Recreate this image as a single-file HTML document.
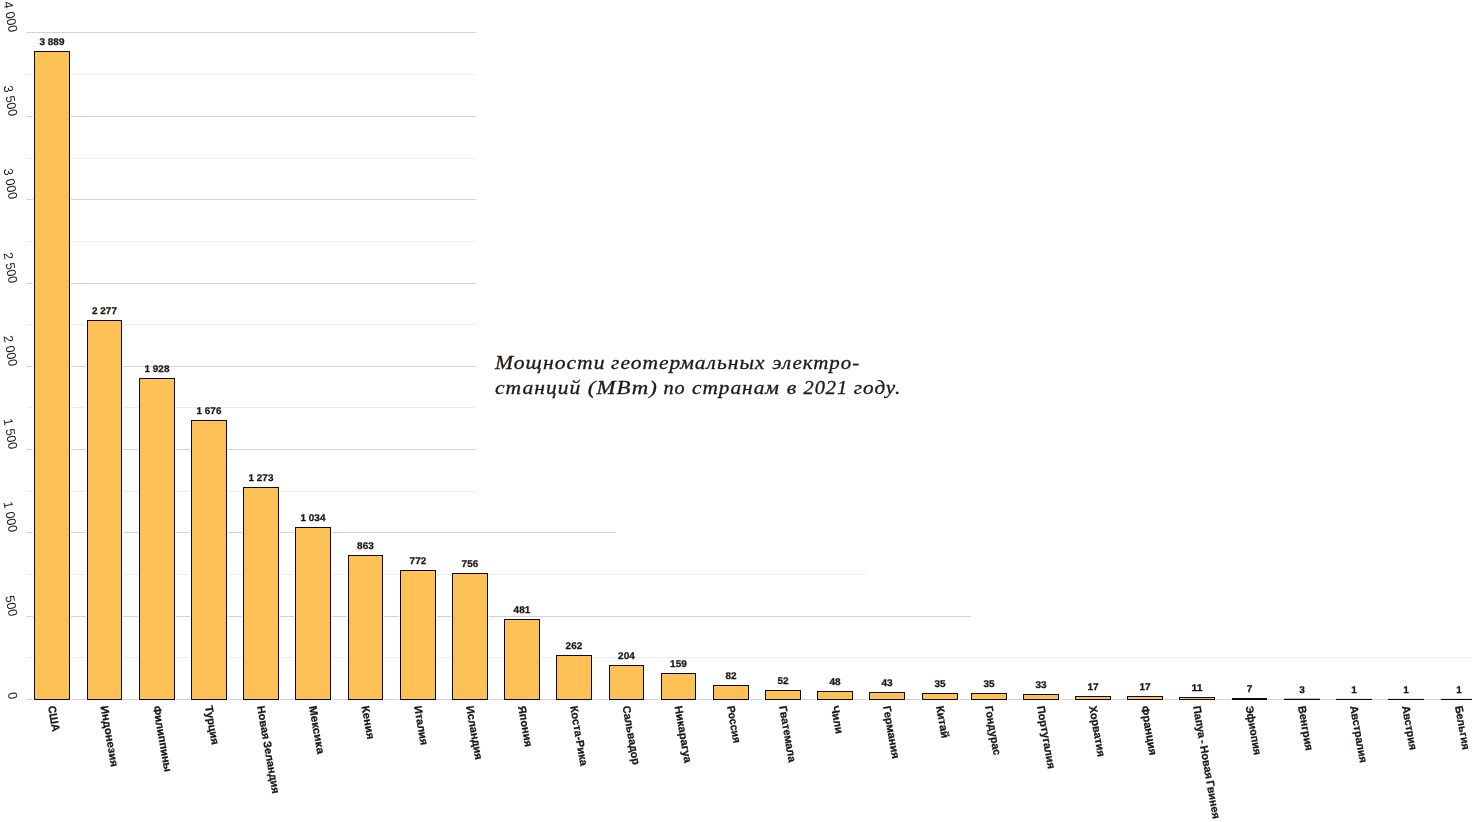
<!DOCTYPE html>
<html lang="ru"><head><meta charset="utf-8"><title>Мощности геотермальных электростанций</title>
<style>html,body{margin:0;padding:0;background:#fff;}body{width:1472px;height:822px;overflow:hidden;}svg{display:block;}text{font-family:"Liberation Sans",sans-serif;fill:#1a1511;}.v{font-weight:bold;font-size:9.7px;text-anchor:middle;text-rendering:geometricPrecision;stroke:#1a1511;stroke-width:0.25px;}.n{font-weight:bold;font-size:11px;stroke:#1a1511;stroke-width:0.25px;word-spacing:-1px;}.y{font-size:12.8px;text-anchor:end;fill:#1c1815;}.t{font-family:"Liberation Serif",serif;font-style:italic;font-size:19.4px;letter-spacing:0.9px;fill:#1f1914;stroke:#1f1914;stroke-width:0.3px;}</style></head><body>
<svg width="1472" height="822" viewBox="0 0 1472 822">
<rect width="1472" height="822" fill="#fff"/>
<g shape-rendering="crispEdges">
<rect x="26" y="32" width="449.5" height="1" fill="#d2d2d4"/>
<rect x="26" y="74" width="449.5" height="1" fill="#ececec"/>
<rect x="26" y="116" width="449.5" height="1" fill="#d2d2d4"/>
<rect x="26" y="158" width="449.5" height="1" fill="#ececec"/>
<rect x="26" y="199" width="449.5" height="1" fill="#d2d2d4"/>
<rect x="26" y="241" width="449.5" height="1" fill="#ececec"/>
<rect x="26" y="283" width="449.5" height="1" fill="#d2d2d4"/>
<rect x="26" y="324" width="449.5" height="1" fill="#ececec"/>
<rect x="26" y="366" width="449.5" height="1" fill="#d2d2d4"/>
<rect x="26" y="407" width="449.5" height="1" fill="#ececec"/>
<rect x="26" y="449" width="449.5" height="1" fill="#d2d2d4"/>
<rect x="26" y="491" width="450.0" height="1" fill="#ececec"/>
<rect x="26" y="532" width="590.0" height="1" fill="#d2d2d4"/>
<rect x="26" y="574" width="840.0" height="1" fill="#ececec"/>
<rect x="26" y="616" width="945.0" height="1" fill="#d2d2d4"/>
<rect x="26" y="657" width="1446.0" height="1" fill="#ececec"/>
<rect x="26" y="699" width="1446.0" height="1" fill="#d2d2d4"/>
</g>
<text class="y" transform="translate(9.0,699.90) rotate(80)" textLength="6.98" lengthAdjust="spacingAndGlyphs">0</text>
<text class="y" transform="translate(9.0,616.90) rotate(80)" textLength="20.92" lengthAdjust="spacingAndGlyphs">500</text>
<text class="y" transform="translate(9.0,532.90) rotate(80)" textLength="31.00" lengthAdjust="spacingAndGlyphs">1 000</text>
<text class="y" transform="translate(9.0,449.90) rotate(80)" textLength="31.00" lengthAdjust="spacingAndGlyphs">1 500</text>
<text class="y" transform="translate(9.0,366.90) rotate(80)" textLength="31.00" lengthAdjust="spacingAndGlyphs">2 000</text>
<text class="y" transform="translate(9.0,283.90) rotate(80)" textLength="31.00" lengthAdjust="spacingAndGlyphs">2 500</text>
<text class="y" transform="translate(9.0,199.90) rotate(80)" textLength="31.00" lengthAdjust="spacingAndGlyphs">3 000</text>
<text class="y" transform="translate(9.0,116.90) rotate(80)" textLength="31.00" lengthAdjust="spacingAndGlyphs">3 500</text>
<text class="y" transform="translate(9.0,32.90) rotate(80)" textLength="31.00" lengthAdjust="spacingAndGlyphs">4 000</text>
<rect x="33.00" y="50.00" width="38.00" height="650.60" fill="#fff"/>
<rect x="34.50" y="51.50" width="35.00" height="648.00" fill="#FEC156" stroke="#0c0a08" stroke-width="1"/>
<text class="v" x="52.00" y="44.80" textLength="24.80" lengthAdjust="spacingAndGlyphs">3 889</text>
<text class="n" transform="translate(48.00,706.40) rotate(80)" textLength="26.00" lengthAdjust="spacingAndGlyphs">США</text>
<rect x="86.00" y="319.00" width="37.00" height="381.60" fill="#fff"/>
<rect x="87.50" y="320.50" width="34.00" height="379.00" fill="#FEC156" stroke="#0c0a08" stroke-width="1"/>
<text class="v" x="104.50" y="313.80" textLength="24.80" lengthAdjust="spacingAndGlyphs">2 277</text>
<text class="n" transform="translate(100.50,706.40) rotate(80)" textLength="61.89" lengthAdjust="spacingAndGlyphs">Индонезия</text>
<rect x="138.00" y="377.00" width="38.00" height="323.60" fill="#fff"/>
<rect x="139.50" y="378.50" width="35.00" height="321.00" fill="#FEC156" stroke="#0c0a08" stroke-width="1"/>
<text class="v" x="157.00" y="371.80" textLength="24.80" lengthAdjust="spacingAndGlyphs">1 928</text>
<text class="n" transform="translate(153.00,706.40) rotate(80)" textLength="67.10" lengthAdjust="spacingAndGlyphs">Филиппины</text>
<rect x="190.00" y="419.00" width="38.00" height="281.60" fill="#fff"/>
<rect x="191.50" y="420.50" width="35.00" height="279.00" fill="#FEC156" stroke="#0c0a08" stroke-width="1"/>
<text class="v" x="209.00" y="413.80" textLength="24.80" lengthAdjust="spacingAndGlyphs">1 676</text>
<text class="n" transform="translate(205.00,706.40) rotate(80)" textLength="39.41" lengthAdjust="spacingAndGlyphs">Турция</text>
<rect x="242.00" y="486.00" width="38.00" height="214.60" fill="#fff"/>
<rect x="243.50" y="487.50" width="35.00" height="212.00" fill="#FEC156" stroke="#0c0a08" stroke-width="1"/>
<text class="v" x="261.00" y="480.80" textLength="24.80" lengthAdjust="spacingAndGlyphs">1 273</text>
<text class="n" transform="translate(257.00,706.40) rotate(80)" textLength="89.01" lengthAdjust="spacingAndGlyphs">Новая Зеландия</text>
<rect x="294.00" y="526.00" width="38.00" height="174.60" fill="#fff"/>
<rect x="295.50" y="527.50" width="35.00" height="172.00" fill="#FEC156" stroke="#0c0a08" stroke-width="1"/>
<text class="v" x="313.00" y="520.80" textLength="24.80" lengthAdjust="spacingAndGlyphs">1 034</text>
<text class="n" transform="translate(309.00,706.40) rotate(80)" textLength="48.73" lengthAdjust="spacingAndGlyphs">Мексика</text>
<rect x="347.00" y="554.00" width="37.00" height="146.60" fill="#fff"/>
<rect x="348.50" y="555.50" width="34.00" height="144.00" fill="#FEC156" stroke="#0c0a08" stroke-width="1"/>
<text class="v" x="365.50" y="548.80" textLength="16.73" lengthAdjust="spacingAndGlyphs">863</text>
<text class="n" transform="translate(361.50,706.40) rotate(80)" textLength="33.94" lengthAdjust="spacingAndGlyphs">Кения</text>
<rect x="399.00" y="569.00" width="38.00" height="131.60" fill="#fff"/>
<rect x="400.50" y="570.50" width="35.00" height="129.00" fill="#FEC156" stroke="#0c0a08" stroke-width="1"/>
<text class="v" x="418.00" y="563.80" textLength="16.73" lengthAdjust="spacingAndGlyphs">772</text>
<text class="n" transform="translate(414.00,706.40) rotate(80)" textLength="39.86" lengthAdjust="spacingAndGlyphs">Италия</text>
<rect x="451.00" y="572.00" width="38.00" height="128.60" fill="#fff"/>
<rect x="452.50" y="573.50" width="35.00" height="126.00" fill="#FEC156" stroke="#0c0a08" stroke-width="1"/>
<text class="v" x="470.00" y="566.80" textLength="16.73" lengthAdjust="spacingAndGlyphs">756</text>
<text class="n" transform="translate(466.00,706.40) rotate(80)" textLength="54.66" lengthAdjust="spacingAndGlyphs">Исландия</text>
<rect x="503.00" y="618.00" width="38.00" height="82.60" fill="#fff"/>
<rect x="504.50" y="619.50" width="35.00" height="80.00" fill="#FEC156" stroke="#0c0a08" stroke-width="1"/>
<text class="v" x="522.00" y="612.80" textLength="16.73" lengthAdjust="spacingAndGlyphs">481</text>
<text class="n" transform="translate(518.00,706.40) rotate(80)" textLength="41.53" lengthAdjust="spacingAndGlyphs">Япония</text>
<rect x="555.00" y="654.00" width="38.00" height="46.60" fill="#fff"/>
<rect x="556.50" y="655.50" width="35.00" height="44.00" fill="#FEC156" stroke="#0c0a08" stroke-width="1"/>
<text class="v" x="574.00" y="648.80" textLength="16.73" lengthAdjust="spacingAndGlyphs">262</text>
<text class="n" transform="translate(570.00,706.40) rotate(80)" textLength="60.89" lengthAdjust="spacingAndGlyphs">Коста-Рика</text>
<rect x="608.00" y="664.00" width="37.00" height="36.60" fill="#fff"/>
<rect x="609.50" y="665.50" width="34.00" height="34.00" fill="#FEC156" stroke="#0c0a08" stroke-width="1"/>
<text class="v" x="626.50" y="658.80" textLength="16.73" lengthAdjust="spacingAndGlyphs">204</text>
<text class="n" transform="translate(622.50,706.40) rotate(80)" textLength="59.85" lengthAdjust="spacingAndGlyphs">Сальвадор</text>
<rect x="660.00" y="672.00" width="37.00" height="28.60" fill="#fff"/>
<rect x="661.50" y="673.50" width="34.00" height="26.00" fill="#FEC156" stroke="#0c0a08" stroke-width="1"/>
<text class="v" x="678.50" y="666.80" textLength="16.73" lengthAdjust="spacingAndGlyphs">159</text>
<text class="n" transform="translate(674.50,706.40) rotate(80)" textLength="57.77" lengthAdjust="spacingAndGlyphs">Никарагуа</text>
<rect x="712.00" y="684.00" width="38.00" height="16.60" fill="#fff"/>
<rect x="713.50" y="685.50" width="35.00" height="14.00" fill="#FEC156" stroke="#0c0a08" stroke-width="1"/>
<text class="v" x="731.00" y="678.80" textLength="11.16" lengthAdjust="spacingAndGlyphs">82</text>
<text class="n" transform="translate(727.00,706.40) rotate(80)" textLength="37.70" lengthAdjust="spacingAndGlyphs">Россия</text>
<rect x="764.00" y="689.00" width="38.00" height="11.60" fill="#fff"/>
<rect x="765.50" y="690.50" width="35.00" height="9.00" fill="#FEC156" stroke="#0c0a08" stroke-width="1"/>
<text class="v" x="783.00" y="683.80" textLength="11.16" lengthAdjust="spacingAndGlyphs">52</text>
<text class="n" transform="translate(779.00,706.40) rotate(80)" textLength="57.17" lengthAdjust="spacingAndGlyphs">Гватемала</text>
<rect x="816.00" y="690.00" width="38.00" height="10.60" fill="#fff"/>
<rect x="817.50" y="691.50" width="35.00" height="8.00" fill="#FEC156" stroke="#0c0a08" stroke-width="1"/>
<text class="v" x="835.00" y="684.80" textLength="11.16" lengthAdjust="spacingAndGlyphs">48</text>
<text class="n" transform="translate(831.00,706.40) rotate(80)" textLength="28.25" lengthAdjust="spacingAndGlyphs">Чили</text>
<rect x="868.00" y="691.00" width="38.00" height="9.60" fill="#fff"/>
<rect x="869.50" y="692.50" width="35.00" height="7.00" fill="#FEC156" stroke="#0c0a08" stroke-width="1"/>
<text class="v" x="887.00" y="685.80" textLength="11.16" lengthAdjust="spacingAndGlyphs">43</text>
<text class="n" transform="translate(883.00,706.40) rotate(80)" textLength="53.66" lengthAdjust="spacingAndGlyphs">Германия</text>
<rect x="921.00" y="692.00" width="38.00" height="8.60" fill="#fff"/>
<rect x="922.50" y="693.50" width="35.00" height="6.00" fill="#FEC156" stroke="#0c0a08" stroke-width="1"/>
<text class="v" x="940.00" y="686.80" textLength="11.16" lengthAdjust="spacingAndGlyphs">35</text>
<text class="n" transform="translate(936.00,706.40) rotate(80)" textLength="32.75" lengthAdjust="spacingAndGlyphs">Китай</text>
<rect x="970.00" y="692.00" width="38.00" height="8.60" fill="#fff"/>
<rect x="971.50" y="693.50" width="35.00" height="6.00" fill="#FEC156" stroke="#0c0a08" stroke-width="1"/>
<text class="v" x="989.00" y="686.80" textLength="11.16" lengthAdjust="spacingAndGlyphs">35</text>
<text class="n" transform="translate(985.00,706.40) rotate(80)" textLength="50.07" lengthAdjust="spacingAndGlyphs">Гондурас</text>
<rect x="1022.00" y="693.00" width="38.00" height="7.60" fill="#fff"/>
<rect x="1023.50" y="694.50" width="35.00" height="5.00" fill="#FEC156" stroke="#0c0a08" stroke-width="1"/>
<text class="v" x="1041.00" y="687.80" textLength="11.16" lengthAdjust="spacingAndGlyphs">33</text>
<text class="n" transform="translate(1037.00,706.40) rotate(80)" textLength="63.86" lengthAdjust="spacingAndGlyphs">Португалия</text>
<rect x="1074.00" y="695.00" width="38.00" height="5.60" fill="#fff"/>
<rect x="1075.50" y="696.50" width="35.00" height="3.00" fill="#FEC156" stroke="#0c0a08" stroke-width="1"/>
<text class="v" x="1093.00" y="689.80" textLength="11.16" lengthAdjust="spacingAndGlyphs">17</text>
<text class="n" transform="translate(1089.00,706.40) rotate(80)" textLength="51.62" lengthAdjust="spacingAndGlyphs">Хорватия</text>
<rect x="1126.00" y="695.00" width="38.00" height="5.60" fill="#fff"/>
<rect x="1127.50" y="696.50" width="35.00" height="3.00" fill="#FEC156" stroke="#0c0a08" stroke-width="1"/>
<text class="v" x="1145.00" y="689.80" textLength="11.16" lengthAdjust="spacingAndGlyphs">17</text>
<text class="n" transform="translate(1141.00,706.40) rotate(80)" textLength="50.10" lengthAdjust="spacingAndGlyphs">Франция</text>
<rect x="1178.00" y="696.00" width="38.00" height="4.60" fill="#fff"/>
<rect x="1179.50" y="697.50" width="35.00" height="2.00" fill="#FEC156" stroke="#0c0a08" stroke-width="1"/>
<text class="v" x="1197.00" y="690.80" textLength="11.16" lengthAdjust="spacingAndGlyphs">11</text>
<text class="n" transform="translate(1193.00,706.40) rotate(80)" textLength="114.60" lengthAdjust="spacingAndGlyphs">Папуа - Новая Гвинея</text>
<rect x="1231.00" y="697.00" width="37.00" height="3.60" fill="#fff"/>
<rect x="1232.50" y="698.50" width="34.00" height="1.00" fill="#FEC156" stroke="#0c0a08" stroke-width="1"/>
<text class="v" x="1249.50" y="691.80" textLength="5.58" lengthAdjust="spacingAndGlyphs">7</text>
<text class="n" transform="translate(1245.50,706.40) rotate(80)" textLength="49.86" lengthAdjust="spacingAndGlyphs">Эфиопия</text>
<rect x="1284.00" y="698.75" width="36.00" height="1.25" fill="#0c0a08"/>
<text class="v" x="1302.00" y="692.80" textLength="5.58" lengthAdjust="spacingAndGlyphs">3</text>
<text class="n" transform="translate(1298.00,706.40) rotate(80)" textLength="45.49" lengthAdjust="spacingAndGlyphs">Венгрия</text>
<rect x="1336.00" y="698.92" width="36.00" height="1.08" fill="#0c0a08"/>
<text class="v" x="1354.00" y="692.80" textLength="5.58" lengthAdjust="spacingAndGlyphs">1</text>
<text class="n" transform="translate(1350.00,706.40) rotate(80)" textLength="57.81" lengthAdjust="spacingAndGlyphs">Австралия</text>
<rect x="1388.00" y="698.92" width="36.00" height="1.08" fill="#0c0a08"/>
<text class="v" x="1406.00" y="692.80" textLength="5.58" lengthAdjust="spacingAndGlyphs">1</text>
<text class="n" transform="translate(1402.00,706.40) rotate(80)" textLength="44.78" lengthAdjust="spacingAndGlyphs">Австрия</text>
<rect x="1441.00" y="698.92" width="36.00" height="1.08" fill="#0c0a08"/>
<text class="v" x="1459.00" y="692.80" textLength="5.58" lengthAdjust="spacingAndGlyphs">1</text>
<text class="n" transform="translate(1455.00,706.40) rotate(80)" textLength="44.42" lengthAdjust="spacingAndGlyphs">Бельгия</text>
<text class="t" x="495.00" y="368.6" textLength="110.54" lengthAdjust="spacingAndGlyphs">Мощности</text>
<text class="t" x="611.00" y="368.6" textLength="154.52" lengthAdjust="spacingAndGlyphs">геотермальных</text>
<text class="t" x="772.24" y="368.6" textLength="87.92" lengthAdjust="spacingAndGlyphs">электро-</text>
<text class="t" x="495.00" y="393.6" textLength="86.28" lengthAdjust="spacingAndGlyphs">станций</text>
<text class="t" x="587.86" y="393.6" textLength="70.06" lengthAdjust="spacingAndGlyphs">(МВт)</text>
<text class="t" x="663.48" y="393.6" textLength="22.18" lengthAdjust="spacingAndGlyphs">по</text>
<text class="t" x="692.00" y="393.6" textLength="87.90" lengthAdjust="spacingAndGlyphs">странам</text>
<text class="t" x="786.86" y="393.6" textLength="10.68" lengthAdjust="spacingAndGlyphs">в</text>
<text class="t" x="803.52" y="393.6" textLength="44.68" lengthAdjust="spacingAndGlyphs">2021</text>
<text class="t" x="853.86" y="393.6" textLength="47.34" lengthAdjust="spacingAndGlyphs">году.</text>
</svg></body></html>
